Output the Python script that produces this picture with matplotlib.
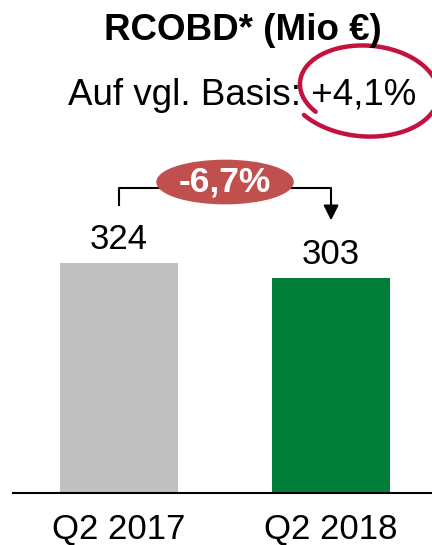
import numpy as np
import matplotlib
matplotlib.use("Agg")
import matplotlib.pyplot as plt
from matplotlib.patches import Ellipse
from matplotlib.lines import Line2D

plt.rcParams['font.family'] = ['Liberation Sans', 'DejaVu Sans']

# données
categories = ["Q2 2017", "Q2 2018"]
values = [324, 303]
bar_colors = ["#C0C0C0", "#007E3A"]
title = "RCOBD* (Mio €)"
subtitle = "Auf vgl. Basis: +4,1%"
change_label = "-6,7%"

W, H = 432, 545
fig = plt.figure(figsize=(W / 100, H / 100), dpi=100)

# axe: de x=13px à droite, base à y=493px
ax = fig.add_axes([13 / W, (H - 493) / H, 1 - 13 / W, 493 / H])
x = np.arange(len(categories))
ax.bar(x, values, width=0.557, color=bar_colors, zorder=2)
ax.set_xlim(-0.5, 1.476)
ax.set_ylim(0, 493 / 0.71)

for xi, v in zip(x, values):
    ax.text(xi, v + 20, str(v), ha="center", va="baseline", fontsize=25)

ax.set_xticks(x)
ax.set_xticklabels(categories, fontsize=25)
ax.tick_params(axis="x", length=0, pad=14)
ax.set_yticks([])
for s in ["top", "right", "left"]:
    ax.spines[s].set_visible(False)
ax.spines["bottom"].set_linewidth(1.5)

# crochet avec flèche
y_br = max(values) + 106
ax.plot([x[0], x[0], x[1], x[1]], [values[0] + 81, y_br, y_br, values[1] + 100],
        color="black", lw=1.5, zorder=3)
ax.annotate("", xy=(x[1], values[1] + 81), xytext=(x[1], values[1] + 102),
            arrowprops=dict(arrowstyle="-|>,head_length=0.9,head_width=0.45",
                            color="black", lw=1.5, shrinkA=0, shrinkB=0))
ax.add_patch(Ellipse((0.5, y_br + 8), 0.642, 61, color="#C0504D", zorder=4))
ax.text(0.5, y_br + 8, change_label, ha="center", va="center", fontsize=25.5,
        fontweight="bold", color="white", zorder=5)

# titres
fig.text(243 / W, 1 - 40 / H, title, ha="center", va="baseline",
         fontsize=26.5, fontweight="bold")
fig.text(242 / W, 1 - 105 / H, subtitle, ha="center", va="baseline", fontsize=26.5)

# cercle dessiné à la main (pixels, y vers le bas)
t = np.radians(np.linspace(222, -140, 200))
sc = np.linspace(0.9, 1.08, 200)
cx, cy, a, b = 366, 89, 72, 45
th = np.radians(5)
dx = a * sc * np.cos(t)
dy = -b * sc * np.sin(t)
px = cx + dx * np.cos(th) - dy * np.sin(th)
py = cy + dx * np.sin(th) + dy * np.cos(th)
fig.add_artist(Line2D(px / W, 1 - py / H, transform=fig.transFigure,
                      color="#C4123F", lw=3.2, solid_capstyle="round"))

fig.savefig("out.png", dpi=100)
